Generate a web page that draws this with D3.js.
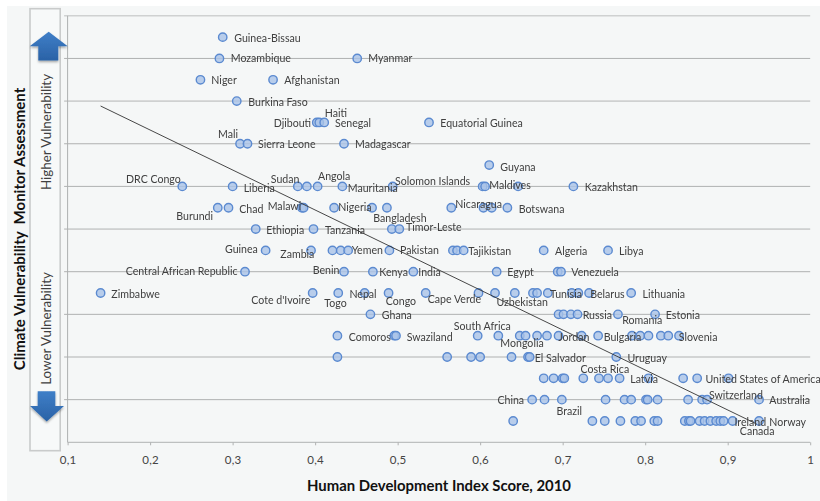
<!DOCTYPE html>
<html><head><meta charset="utf-8">
<script src="https://cdn.jsdelivr.net/npm/d3@7"></script>
<style>html,body{margin:0;padding:0;background:#fff}svg{display:block}text{font-family:Lato,"Open Sans",sans-serif;white-space:pre}</style>
</head><body><svg id="c" width="820" height="501"></svg>
<script>
// HDI scores per vulnerability rank (row 19 = highest vulnerability)
const row19=[0.288];
const row18=[0.284,0.451];
const row17=[0.261,0.349];
const row16=[0.305];
const row15=[0.402,0.405,0.411,0.538];
const row14=[0.309,0.318,0.435];
const row13=[0.611];
const row12=[0.239,0.300,0.379,0.390,0.403,0.433,0.494,0.603,0.606,0.646,0.713];
const row11=[0.282,0.295,0.384,0.386,0.423,0.469,0.487,0.565,0.604,0.614,0.633];
const row10=[0.328,0.398,0.493,0.502];
const row9=[0.340,0.395,0.421,0.431,0.440,0.490,0.567,0.572,0.580,0.677,0.755];
const row8=[0.315,0.435,0.470,0.519,0.620,0.694,0.698];
const row7=[0.140,0.397,0.428,0.460,0.489,0.534,0.598,0.618,0.642,0.664,0.669,0.682,0.711,0.719,0.732,0.783];
const row6=[0.467,0.695,0.701,0.710,0.718,0.767,0.812];
const row5=[0.427,0.496,0.498,0.597,0.622,0.648,0.655,0.669,0.681,0.695,0.723,0.743,0.784,0.794,0.804,0.819,0.828,0.841];
const row4=[0.427,0.560,0.589,0.600,0.638,0.658,0.660,0.765];
const row3=[0.677,0.689,0.700,0.702,0.725,0.744,0.755,0.769,0.804,0.846,0.863,0.901];
const row2=[0.663,0.678,0.699,0.752,0.775,0.783,0.801,0.803,0.815,0.852,0.869,0.875,0.938];
const row1=[0.640,0.736,0.751,0.770,0.788,0.795,0.811,0.815,0.848,0.853,0.855,0.866,0.872,0.879,0.886,0.891,0.895,0.906,0.938];
const rows=[row1,row2,row3,row4,row5,row6,row7,row8,row9,row10,row11,row12,row13,row14,row15,row16,row17,row18,row19];
const trendHdi=[0.140,0.935];
const trendRow=[15.77,0.86];
const xTicks=[0.1,0.2,0.3,0.4,0.5,0.6,0.7,0.8,0.9,1];
const xTickLabels=["0,1","0,2","0,3","0,4","0,5","0,6","0,7","0,8","0,9","1"];
const xTitle="Human Development Index Score, 2010";
const yTitle="Climate Vulnerability  Monitor Assessment";
const upperLabel="Higher Vulnerability";
const lowerLabel="Lower Vulnerability";
const countryNames=["Guinea-Bissau","Mozambique","Myanmar","Niger","Afghanistan","Burkina Faso","Haiti","Djibouti","Senegal","Equatorial Guinea","Mali","Sierra Leone","Madagascar","Guyana","DRC Congo","Liberia","Sudan","Angola","Mauritania","Solomon Islands","Maldives","Kazakhstan","Burundi","Chad","Malawi","Nigeria","Bangladesh","Nicaragua","Botswana","Ethiopia","Tanzania","Timor-Leste","Guinea","Zambia","Yemen","Pakistan","Tajikistan","Algeria","Libya","Central African Republic","Benin","Kenya","India","Egypt","Venezuela","Zimbabwe","Cote d'Ivoire","Togo","Nepal","Congo","Cape Verde","Uzbekistan","Tunisia","Belarus","Lithuania","Ghana","Russia","Romania","Estonia","South Africa","Comoros","Swaziland","Mongolia","Jordan","Bulgaria","Slovenia","El Salvador","Uruguay","Costa Rica","Latvia","United States of America","Switzerland","China","Australia","Brazil","Ireland","Norway","Canada"];
// label anchors, in axis units: [HDI of the text start, row of the text centre]
const labelAnchors=[[.3020,18.96],[.2977,18],[.4644,18],[.2742,17],[.3626,17],[.3190,15.98],[.4116,15.44],[.3498,14.98],[.4241,14.98],[.5517,14.98],[.2823,14.47],[.3308,13.97],[.4483,13.97],[.6244,12.93],[.1708,12.36],[.3134,11.94],[.3462,12.36],[.4035,12.5],[.4395,11.94],[.4968,12.27],[.6111,12.08],[.7267,11.99],[.2317,10.6],[.3081,10.95],[.3425,11.09],[.4281,11.04],[.4705,10.5],[.5699,11.18],[.6467,10.95],[.3408,9.96],[.4120,9.96],[.5101,10.11],[.2908,9.06],[.3578,8.83],[.4443,9],[.5029,9],[.5856,8.97],[.6907,8.97],[.7683,8.97],[.1704,8.02],[.3970,8.07],[.4778,7.97],[.5250,7.97],[.6329,7.97],[.7105,7.97],[.1530,6.97],[.3226,6.66],[.4111,6.55],[.4415,6.97],[.4856,6.64],[.5365,6.71],[.6197,6.57],[.6847,6.97],[.7333,6.97],[.7968,6.97],[.4808,5.98],[.7243,5.98],[.7722,5.75],[.8250,5.98],[.5680,5.45],[.4408,4.93],[.5109,4.93],[.6245,4.65],[.6947,4.93],[.7497,4.93],[.8407,4.93],[.6662,3.97],[.7785,3.97],[.7215,3.42],[.7819,2.95],[.8731,2.95],[.8772,2.24],[.6209,1.97],[.9505,1.97],[.6925,1.48],[.9082,.96],[.9505,.96],[.9147,.51]];

const W=820,H=501;
const x=d3.scaleLinear().domain([0.1,1]).range([67.6,810.2]);
const y=d3.scaleLinear().domain([0,20]).range([442.3,15.8]);
const svg=d3.select("#c");
const defs=svg.append("defs");
const grad=defs.append("linearGradient").attr("id","arrow").attr("x1",0).attr("x2",0).attr("y1",0).attr("y2",1);
grad.append("stop").attr("offset","0%").attr("stop-color","#3f7fc8");
grad.append("stop").attr("offset","100%").attr("stop-color","#2a62a6");
const blur=defs.append("filter").attr("id","soft").attr("x","-20%").attr("y","-20%").attr("width","140%").attr("height","150%");
blur.append("feDropShadow").attr("dx",0).attr("dy",1.5).attr("stdDeviation",1.3).attr("flood-color","#000").attr("flood-opacity",.35);
defs.append("filter").attr("id","txt").attr("x","-5%").attr("y","-5%").attr("width","110%").attr("height","110%").append("feGaussianBlur").attr("stdDeviation",.3);

svg.append("rect").attr("x",7).attr("y",6).attr("width",W-7).attr("height",H-6).attr("fill","#f5f7f7");

// side panel
svg.append("rect").attr("x",30).attr("y",8.7).attr("width",30.2).attr("height",442).attr("fill","#f7f9f9").attr("stroke","#c9cbcb").attr("stroke-width",1.6);

// grid
const grid=svg.append("g");
d3.range(0,21,2).forEach(v=>{
  if(v===0)return;
  const heavy=v===20||v===16;
  grid.append("line").attr("x1",x(0.1)-3.5).attr("x2",x(1)).attr("y1",y(v)).attr("y2",y(v))
    .attr("stroke",heavy?"#cfd1d1":"#afb1b1").attr("stroke-width",heavy?1.6:1);
});
grid.append("line").attr("x1",x(0.1)).attr("x2",x(0.1)).attr("y1",y(20)).attr("y2",y(0)).attr("stroke","#aeb0b0");
// x axis
const ax=svg.append("g").attr("transform",`translate(0,${y(0)})`)
  .call(d3.axisBottom(x).tickValues(xTicks).tickSize(3).tickPadding(11).tickFormat((d,i)=>xTickLabels[i]));
ax.selectAll("path,line").attr("stroke","#b0b2b2");
ax.selectAll("text").attr("font-size",11.5).attr("fill","#444").attr("letter-spacing",.3);
ax.select("path").attr("d",`M${x(0.1)},0H${x(1)}`);

// points
const flat=rows.flatMap((r,i)=>r.map(h=>({h,row:i+1})));
svg.append("g").attr("filter","url(#txt)").selectAll("circle").data(flat).join("circle")
  .attr("cx",d=>x(d.h)).attr("cy",d=>y(d.row)).attr("r",4.2)
  .attr("fill","#a9c3e8").attr("fill-opacity",.8).attr("stroke","#5b8ad0").attr("stroke-width",1.4);

// trend
svg.append("line").attr("x1",x(trendHdi[0])).attr("y1",y(trendRow[0])).attr("x2",x(trendHdi[1])).attr("y2",y(trendRow[1]))
  .attr("stroke","#333").attr("stroke-width",.9);

// labels
svg.append("g").attr("filter","url(#txt)").selectAll("text").data(countryNames).join("text")
  .attr("x",(d,i)=>x(labelAnchors[i][0])).attr("y",(d,i)=>y(labelAnchors[i][1]))
  .attr("dominant-baseline","central").attr("font-size",10.6).attr("fill","#404040").text(d=>d);

// arrows
const up=d3.path();up.moveTo(48.7,31.7);up.lineTo(67.7,46.3);up.lineTo(58.3,46.3);up.lineTo(58.3,60.5);up.lineTo(38.3,60.5);up.lineTo(38.3,46.3);up.lineTo(29.7,46.3);up.closePath();
svg.append("path").attr("d",up.toString()).attr("fill","url(#arrow)").attr("filter","url(#soft)");
const dn=d3.path();dn.moveTo(37.7,391.3);dn.lineTo(55.3,391.3);dn.lineTo(55.3,406);dn.lineTo(64,406);dn.lineTo(46.7,421.5);dn.lineTo(30,406);dn.lineTo(37.7,406);dn.closePath();
svg.append("path").attr("d",dn.toString()).attr("fill","url(#arrow)").attr("filter","url(#soft)");

// panel & titles
svg.append("text").attr("transform","translate(46,132) rotate(-90)").attr("text-anchor","middle").attr("dominant-baseline","central")
  .attr("font-size",13.4).attr("fill","#404040").text(upperLabel);
svg.append("text").attr("transform","translate(46,328.5) rotate(-90)").attr("text-anchor","middle").attr("dominant-baseline","central")
  .attr("font-size",13.4).attr("fill","#404040").text(lowerLabel);
svg.append("text").attr("transform","translate(19,229) rotate(-90)").attr("text-anchor","middle").attr("dominant-baseline","central")
  .attr("font-size",15).attr("font-weight",700).attr("fill","#111").text(yTitle);
svg.append("text").attr("x",439).attr("y",490.5).attr("text-anchor","middle")
  .attr("font-size",14.9).attr("font-weight",700).attr("fill","#111").text(xTitle);
</script></body></html>
